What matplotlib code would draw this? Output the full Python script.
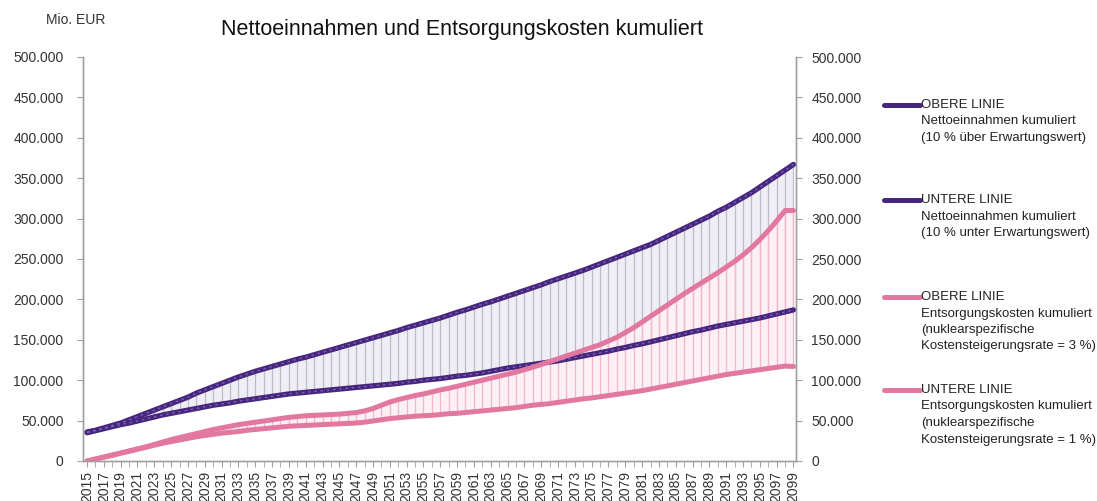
#!/usr/bin/env python3
"""Nettoeinnahmen und Entsorgungskosten kumuliert (2015-2099)."""

import numpy as np
import matplotlib
matplotlib.use('Agg')
import matplotlib.pyplot as plt
from matplotlib.ticker import FuncFormatter

plt.rcParams['font.family'] = ['Liberation Sans', 'DejaVu Sans']

# ---- data (Tsd. Mio. EUR) ----
years = list(range(2015, 2100))

netto_oben = [36, 38, 41, 44, 47, 51, 55, 59, 63, 67,
              71, 75, 79, 84, 88, 92, 96, 100, 104, 107.5,
              111, 114, 117, 120, 123, 126, 128.5, 131.5, 134.5, 137.5,
              140.5, 143.5, 146.5, 149.5, 152.5, 155.5, 158.5, 161.5, 165, 168,
              171, 174, 177, 180.5, 184, 187, 190.5, 194, 197, 200.5,
              204, 207.5, 211, 214.5, 218, 222, 225.5, 229, 232.5, 236,
              240, 244, 248, 252, 256, 260, 264, 268, 273, 278,
              283, 288, 293, 298, 303, 309, 314, 320, 326, 332,
              339, 346, 353, 360, 367]

netto_unten = [35, 37.5, 40, 42.5, 45, 47, 49.5, 52, 54.5, 57,
               59, 61, 63, 65, 67, 69, 70.5, 72, 74, 75.5,
               77, 78.5, 80, 81.5, 83, 84, 85, 86, 87, 88,
               89, 90, 91, 92, 93, 94, 95, 96, 97.5, 98.5,
               100, 101, 102, 103.5, 105, 106, 107.5, 109, 111, 113,
               115, 116.5, 118, 119.5, 121, 122.5, 124, 126, 128, 130,
               132, 134, 136, 138.5, 140.5, 143, 145, 147.5, 150, 152.5,
               155, 157.5, 160, 162, 164.5, 167, 169, 171, 173, 175,
               177, 179.5, 182, 184.5, 187]

kosten_oben = [0, 2.5, 5, 7.5, 10, 12.5, 15, 17.5, 20.5, 23.5,
               26.5, 29, 31.5, 34, 36.5, 39, 41, 43, 45, 46.5,
               48, 49.5, 51, 52.5, 54, 55, 56, 56.5, 57, 57.5,
               58, 59, 60, 62, 65, 69, 73, 76, 78.5, 81,
               83, 85.5, 88, 90, 92.5, 95, 97.5, 100, 102.5, 105,
               107.5, 110, 113, 116, 119.5, 123, 126.5, 130, 133.5, 137,
               140.5, 144, 148.5, 153, 159, 165, 172, 179, 186, 193,
               200, 207, 213.5, 220, 226.5, 233, 240, 247, 255, 264,
               274, 285, 297, 310, 310]

kosten_unten = [0, 2.3, 4.6, 7, 9.5, 12, 14.5, 17, 19.5, 22,
                24, 26, 28, 30, 31.5, 33, 34.5, 35.5, 36.5, 38,
                39, 40, 41, 42, 43, 43.5, 44, 44.5, 45, 45.5,
                46, 46.5, 47, 48, 49.5, 51, 52.5, 53.5, 54.5, 55.5,
                56, 56.5, 57.5, 58.5, 59, 60, 61, 62, 63, 64,
                65, 66, 67.5, 69, 70, 71, 72.5, 74, 75.5, 77,
                78, 79.5, 81, 82.5, 84, 85.5, 87, 89, 91, 93,
                95, 97, 99, 101, 103, 105, 107, 108.5, 110, 111.5,
                113, 114.5, 116, 117.5, 117]

legend_texts = [
    ['OBERE LINIE', 'Nettoeinnahmen kumuliert', '(10 % über Erwartungswert)'],
    ['UNTERE LINIE', 'Nettoeinnahmen kumuliert', '(10 % unter Erwartungswert)'],
    ['OBERE LINIE', 'Entsorgungskosten kumuliert', '(nuklearspezifische',
     'Kostensteigerungsrate = 3 %)'],
    ['UNTERE LINIE', 'Entsorgungskosten kumuliert', '(nuklearspezifische',
     'Kostensteigerungsrate = 1 %)'],
]

# ---- styling ----
PURPLE = '#46267f'
PURPLE_LIGHT = '#7d68b3'
PINK = '#e2789f'
AXIS_GRAY = '#a0a0a0'

x = np.arange(len(years))
no = np.array(netto_oben) * 1000
nu = np.array(netto_unten) * 1000
ko = np.array(kosten_oben) * 1000
ku = np.array(kosten_unten) * 1000

fig = plt.figure(figsize=(10.97, 5.01), dpi=100)
ax = fig.add_axes([83 / 1097, 40 / 501, 713 / 1097, 404 / 501])

# shaded bands with one vertical line per year
ax.fill_between(x, nu, no, color='#efeef5', lw=0, zorder=1)
ax.fill_between(x, ku, ko, color='#fcf0f5', lw=0, zorder=1)
ax.vlines(x, nu, no, color='#bdbcc9', lw=0.9, zorder=2)
ax.vlines(x, ku, ko, color='#f3b5ca', lw=0.9, zorder=2)

# lines
for series in (no, nu):
    ax.plot(x, series, color=PURPLE, lw=3.8, solid_capstyle='round', zorder=4)
    ax.plot(x, series, color=PURPLE_LIGHT, lw=0.9, ls=(0, (2, 3)), zorder=5)
for series in (ko, ku):
    ax.plot(x, series, color=PINK, lw=3.6, solid_capstyle='round', zorder=6)

ax.set_xlim(-0.48, 84.3)
ax.set_ylim(0, 500000)

fmt = FuncFormatter(lambda v, p: f'{v:,.0f}'.replace(',', '.'))
yt = np.arange(0, 500001, 50000)
ax.set_yticks(yt)
ax.yaxis.set_major_formatter(fmt)
ax.tick_params(axis='y', labelsize=10, length=4, color=AXIS_GRAY,
               labelcolor='#333333', pad=10)

ax.set_xticks(x[::2])
ax.set_xticklabels([str(y) for y in years[::2]], rotation=90, fontsize=10,
                   color='#333333')
ax.set_xticks(x[1::2], minor=True)
ax.tick_params(axis='x', which='both', length=4, color=AXIS_GRAY, pad=3)

ax2 = ax.twinx()
ax2.set_ylim(ax.get_ylim())
ax2.set_yticks(yt)
ax2.yaxis.set_major_formatter(fmt)
ax2.tick_params(axis='y', labelsize=10, length=4, color=AXIS_GRAY,
                labelcolor='#333333', pad=7)

for a in (ax, ax2):
    a.spines['top'].set_visible(False)
    for s in ('left', 'right', 'bottom'):
        a.spines[s].set_color(AXIS_GRAY)
        a.spines[s].set_linewidth(1.0)

# titles
fig.text(462 / 1097, 1 - 30 / 501, 'Nettoeinnahmen und Entsorgungskosten kumuliert',
         ha='center', va='center', fontsize=15.5, color='#111111')
fig.text(76 / 1097, 1 - 20 / 501, 'Mio. EUR', ha='center', va='center',
         fontsize=10, color='#333333')

# legend drawn by hand to keep the multi-line layout
leg_colors = [PURPLE, PURPLE, PINK, PINK]
leg_tops = [105, 200, 297, 390]
for texts, col, top in zip(legend_texts, leg_colors, leg_tops):
    yf = 1 - top / 501
    fig.add_artist(plt.Line2D([884 / 1097, 920 / 1097], [yf, yf], color=col,
                              lw=3.6, solid_capstyle='round'))
    for k, t in enumerate(texts):
        fig.text(921 / 1097, 1 - (top + k * 16.5) / 501, t, ha='left',
                 va='center', fontsize=9.5, color='#222222')

fig.savefig('out.png', dpi=100, facecolor='white')
